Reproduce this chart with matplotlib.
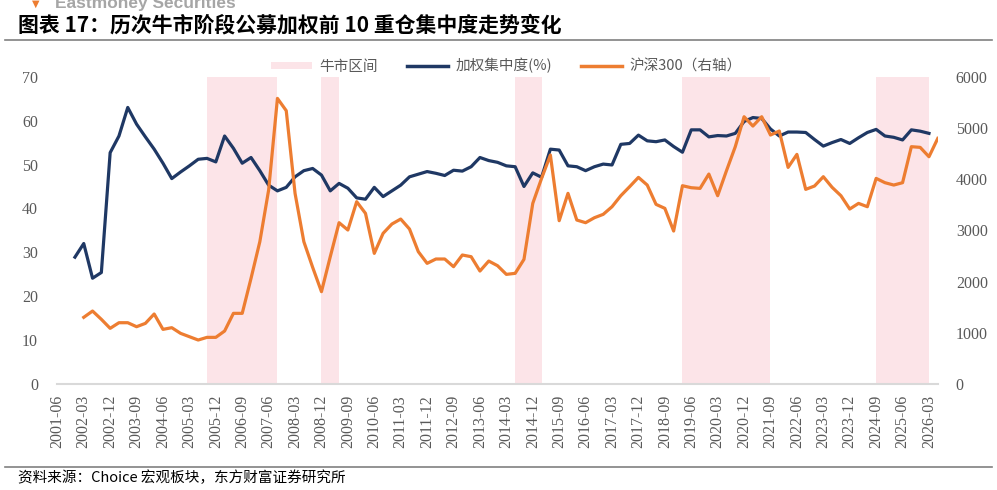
import matplotlib
matplotlib.use("Agg")
import matplotlib.pyplot as plt
from matplotlib.patches import Patch
from matplotlib.lines import Line2D
import pandas as pd

# quarterly category axis, 2001-06 .. 2026-06
quarters = [p.end_time.strftime("%Y-%m") for p in pd.period_range("2001Q2", periods=101, freq="Q")]

# weighted top-10 concentration (%), from 2001-12 to 2026-03
conc_start = "2001-12"
concentration = [
    28.9, 32.0, 24.1, 25.4, 52.7, 56.5, 63.0, 59.2, 56.3, 53.5,
    50.3, 46.8, 48.3, 49.7, 51.2, 51.4, 50.6, 56.5, 53.7, 50.3,
    51.6, 48.6, 45.3, 44.0, 44.8, 47.2, 48.6, 49.1, 47.6, 44.0,
    45.7, 44.6, 42.4, 42.1, 44.8, 42.7, 44.0, 45.3, 47.2, 47.8,
    48.4, 48.0, 47.5, 48.7, 48.5, 49.5, 51.6, 50.9, 50.5, 49.7,
    49.5, 45.0, 48.1, 47.1, 53.5, 53.3, 49.7, 49.5, 48.6, 49.5,
    50.1, 49.9, 54.6, 54.8, 56.7, 55.4, 55.2, 55.6, 54.1, 52.8,
    57.9, 57.9, 56.3, 56.6, 56.5, 57.1, 59.8, 60.7, 60.5, 58.1,
    56.5, 57.4, 57.4, 57.3, 55.7, 54.2, 55.0, 55.7, 54.8, 56.1,
    57.3, 58.0, 56.5, 56.2, 55.6, 57.9, 57.6, 57.1,
]

# CSI 300 (right axis), from 2002-03 onward
csi_start = "2002-03"
csi300 = [
    1302, 1425, 1263, 1087, 1197, 1197, 1119, 1184, 1367, 1067,
    1100, 989, 924, 859, 911, 911, 1035, 1380, 1380, 2063,
    2779, 3788, 5577, 5337, 3723, 2779, 2278, 1803, 2486, 3150,
    3007, 3560, 3332, 2551, 2942, 3124, 3221, 3026, 2584, 2356,
    2441, 2441, 2291, 2519, 2486, 2206, 2401, 2310, 2141, 2161,
    2434, 3527, 4015, 4471, 3189, 3723, 3202, 3150, 3247, 3313,
    3462, 3677, 3853, 4035, 3885, 3508, 3430, 2987, 3872, 3833,
    3820, 4100, 3677, 4165, 4634, 5219, 5037, 5219, 4862, 4940,
    4230, 4484, 3801, 3866, 4048, 3840, 3677, 3417, 3527, 3462,
    4015, 3931, 3885, 3931, 4634, 4621, 4438, 4796,
]

bull_periods = [
    ("2005-09", "2007-09"),
    ("2008-12", "2009-06"),
    ("2014-06", "2015-03"),
    ("2019-03", "2021-09"),
    ("2024-09", "2026-03"),
]

NAVY = "#1F3864"
ORANGE = "#ED7D31"
PINK = "#FCE4E8"
GRAY = "#595959"

plt.rcParams["font.family"] = ["Noto Sans CJK SC", "DejaVu Sans"]
tick_font = "Liberation Serif"

fig = plt.figure(figsize=(9.97, 4.90), dpi=100)
ax = fig.add_axes([0.0575, 0.2163, 0.8831, 0.6271])
ax2 = ax.twinx()

idx = {q: i for i, q in enumerate(quarters)}
for a, b in bull_periods:
    ax.axvspan(idx[a], idx[b], ymin=0, ymax=1, color=PINK, lw=0, zorder=0)

c0 = idx[conc_start]
ax.plot(range(c0, c0 + len(concentration)), concentration, color=NAVY, lw=2.3,
        solid_joinstyle="round", zorder=3)
s0 = idx[csi_start]
ax2.plot(range(s0, s0 + len(csi300)), csi300, color=ORANGE, lw=2.3,
         solid_joinstyle="round", zorder=3)

ax.set_xlim(0, len(quarters) - 1)
ax.set_ylim(0, 70)
ax2.set_ylim(0, 6000)
ax.set_yticks(range(0, 71, 10))
ax2.set_yticks(range(0, 6001, 1000))
ax.set_xticks(range(0, len(quarters) - 1, 3))
ax.set_xticklabels(quarters[0:len(quarters) - 1:3], rotation=90)

for a in (ax, ax2):
    for s in a.spines.values():
        s.set_visible(False)
    a.tick_params(length=0, colors=GRAY, labelsize=11.5)
ax.spines["bottom"].set_visible(True)
ax.spines["bottom"].set_color("#D9D9D9")
ax.spines["bottom"].set_linewidth(1.5)
ax.tick_params(axis="y", pad=14)
ax.tick_params(axis="x", pad=8)
ax2.tick_params(axis="y", pad=13)
for lab in ax.get_xticklabels() + ax.get_yticklabels() + ax2.get_yticklabels():
    lab.set_fontfamily(tick_font)

handles = [
    Patch(facecolor=PINK, edgecolor="none"),
    Line2D([], [], color=NAVY, lw=2.5),
    Line2D([], [], color=ORANGE, lw=2.5),
]
labels = ["牛市区间", "加权集中度(%)", "沪深300（右轴）"]
fig.legend(handles, labels, loc="center", bbox_to_anchor=(0.508, 1 - 66 / 490),
           ncol=3, frameon=False, fontsize=10.5, labelcolor=GRAY,
           handlelength=2.8, handleheight=0.4, columnspacing=2.0, handletextpad=0.5)

# header / footer
fig.text(0.032, 1 - 4 / 490, "\u25BC", fontsize=7, color=ORANGE, va="center", ha="left",
         family=["DejaVu Sans"])
fig.text(0.055, 1 - 8 / 490, "Eastmoney Securities", fontsize=12.5, color="#A6A6A6",
         fontweight="bold", va="baseline", ha="left", family=["Liberation Sans"])
fig.text(0.018, 1 - 25 / 490, "图表 17：历次牛市阶段公募加权前 10 重仓集中度走势变化",
         fontsize=15, fontweight="bold", color="black", va="center", ha="left")
fig.add_artist(Line2D([0.005, 0.995], [1 - 40 / 490] * 2, color="#808080", lw=1.2))
fig.add_artist(Line2D([0.005, 0.995], [1 - 467 / 490] * 2, color="#808080", lw=1.2))
fig.text(0.018, 1 - 478 / 490, "资料来源：Choice 宏观板块，东方财富证券研究所",
         fontsize=10.5, color="black", va="center", ha="left")

fig.savefig("out.png", dpi=100)
